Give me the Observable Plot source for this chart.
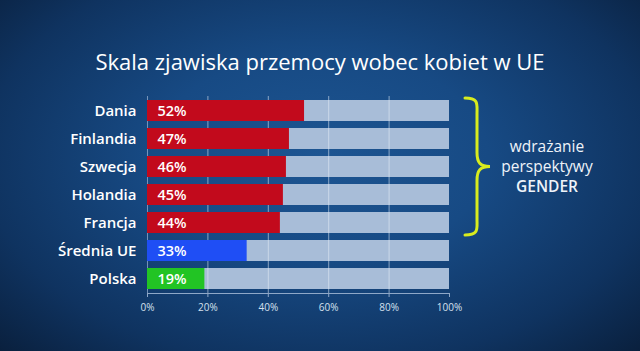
<!DOCTYPE html>
<html><head><meta charset="utf-8">
<script src="https://cdn.jsdelivr.net/npm/d3@7"></script>
<script src="https://cdn.jsdelivr.net/npm/@observablehq/plot@0.6"></script>
<style>
html,body{margin:0;padding:0;background:#081a33}
#wrap{position:relative;width:640px;height:351px;overflow:hidden;
 background:radial-gradient(ellipse 75% 85% at 50% 45%, #1d5592 0%, #174a84 35%, #0f3360 70%, #081a33 100%);
 font-family:"Open Sans","Noto Sans",sans-serif}
#title{position:absolute;top:46px;left:0;width:640px;text-align:center;color:#fff;font-size:22px;letter-spacing:0px}
#chart{position:absolute;left:0;top:0}
</style></head>
<body><div id="wrap"><div id="chart"></div><div id="title">Skala zjawiska przemocy wobec kobiet w UE</div></div>
<script>
const countries = ["Dania","Finlandia","Szwecja","Holandia","Francja","Średnia UE","Polska"];
const values = [52,47,46,45,44,33,19];
const groups = ["kraj","kraj","kraj","kraj","kraj","srednia","polska"];
const groupColors = {kraj:"#c20a1c", srednia:"#1f4ef5", polska:"#22c424"};
const xTicks = [0,20,40,60,80,100];
const braceGroup = ["Dania","Francja"];
const braceText = ["wdrażanie","perspektywy","GENDER"];

const data = countries.map((c,i)=>({country:c, value:values[i], group:groups[i]}));

const plot = Plot.plot({
  width:640, height:351,
  marginLeft:147, marginRight:191, marginTop:96, marginBottom:58,
  style:{background:"transparent", fontFamily:"'Open Sans','Noto Sans',sans-serif", overflow:"visible"},
  x:{domain:[0,100], axis:null, label:null},
  y:{domain:countries, paddingInner:0.25, paddingOuter:0.125, axis:null},
  marks:[
    Plot.barX(data,{x1:0, x2:100, y:"country", fill:"#a8bdd8"}),
    Plot.gridX(xTicks.filter(d=>d>0 && d<100),{stroke:"#e8eef7", strokeOpacity:0.55, strokeWidth:1}),
    Plot.ruleX([0],{stroke:"#8fa8c8", strokeOpacity:0.8}),
    Plot.barX(data,{x1:0, x2:"value", y:"country", fill:d=>groupColors[d.group]}),
    Plot.text(data,{x:0, y:"country", text:d=>d.value+"%", dx:10, textAnchor:"start", fill:"white", fontSize:14.5, fontWeight:600}),
    Plot.text(data,{x:0, y:"country", text:"country", dx:-11, textAnchor:"end", fill:"white", fontSize:15, fontWeight:600}),
    Plot.frame({anchor:"bottom", stroke:"#8fa8c8"}),
    Plot.axisX({ticks:xTicks, tickFormat:d=>d+"%", label:null, tickSize:4, tickPadding:6, stroke:"#8fa8c8", fill:"#d5e0ee", fontSize:10})
  ]
});
document.getElementById("chart").appendChild(plot);

// brace annotation positioned from the scales
(function(){
const xs = plot.scale("x"), ys = plot.scale("y");
const bw = ys.bandwidth;
const yTop = ys.apply(braceGroup[0]) - 2, yBot = ys.apply(braceGroup[1]) + bw + 2;
const mid = (yTop+yBot)/2;
const x0 = xs.apply(100) + 16, xm = x0 + 12, xp = x0 + 25;
const svg = d3.select(plot);
svg.append("path")
  .attr("d", `M${x0},${yTop} C${xm+2},${yTop} ${xm},${yTop+6} ${xm},${yTop+16} L${xm},${mid-14} C${xm},${mid-4} ${xm+3},${mid} ${xp},${mid} C${xm+3},${mid} ${xm},${mid+4} ${xm},${mid+14} L${xm},${yBot-16} C${xm},${yBot-6} ${xm+2},${yBot} ${x0},${yBot}`)
  .attr("fill","none").attr("stroke","#d8ec1e").attr("stroke-width",3).attr("stroke-linecap","round");
const tx = x0 + 82;
svg.append("g").attr("font-size",15.5).attr("fill","#eef3f9").attr("text-anchor","middle")
  .attr("font-family","'Open Sans','Noto Sans',sans-serif")
  .selectAll("text").data(braceText).join("text")
  .attr("x",tx).attr("y",(d,i)=>mid - 20 + i*20).attr("dy","0.35em")
  .attr("font-weight",(d,i)=>i===2?600:400)
  .text(d=>d);
})();
</script></body></html>
